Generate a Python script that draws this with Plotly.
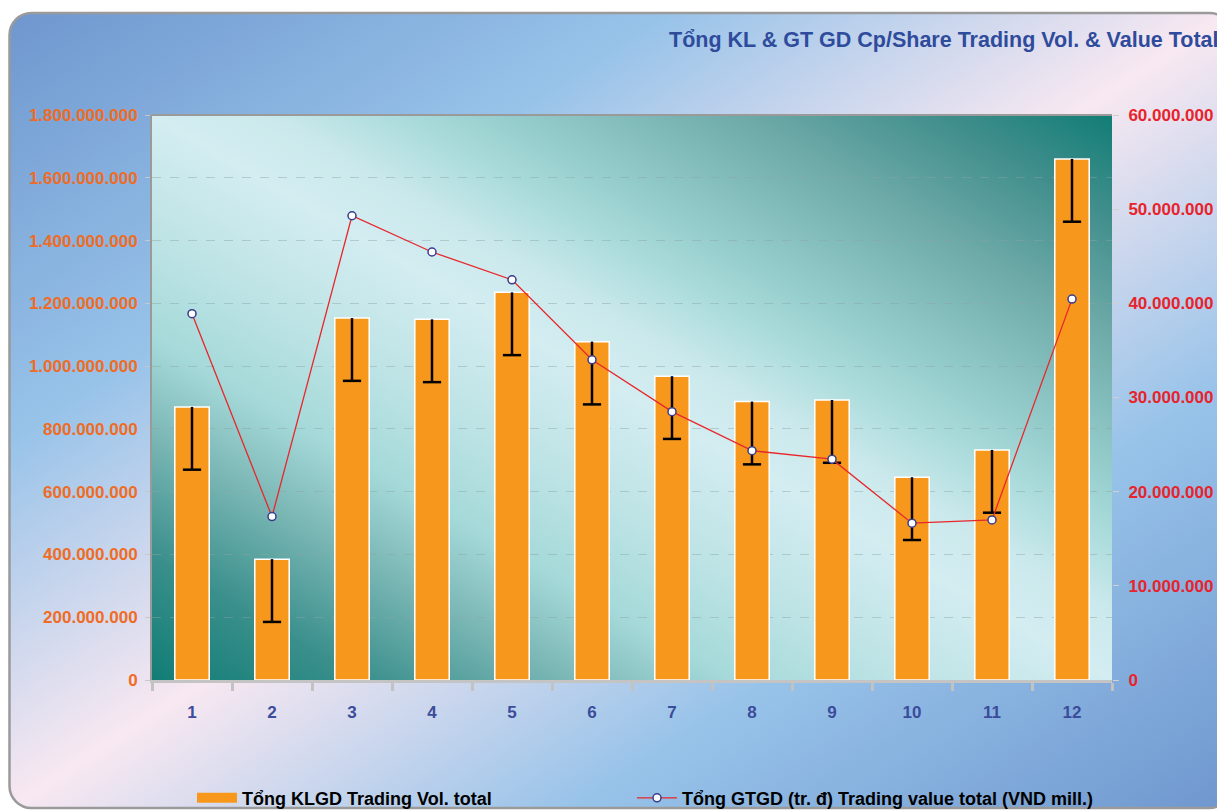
import base64
import numpy as np
import plotly.graph_objects as go

# ---------------- data ----------------
months = ["1", "2", "3", "4", "5", "6", "7", "8", "9", "10", "11", "12"]
trading_vol = [870e6, 385e6, 1153e6, 1149e6, 1235e6, 1078e6, 968e6, 887e6, 892e6, 646e6, 733e6, 1660e6]
vol_err_minus = [200e6] * 12
trading_value = [38.9e6, 17.35e6, 49.3e6, 45.45e6, 42.5e6, 34.0e6, 28.5e6, 24.35e6, 23.45e6, 16.65e6, 17.0e6, 40.45e6]

title_text = "Tổng KL & GT GD Cp/Share Trading Vol. & Value Total"
vol_name = "Tổng KLGD Trading Vol. total"
value_name = "Tổng GTGD (tr. đ) Trading value total (VND mill.)"

# ---------------- geometry (page has an 8px body margin) ----------------
W, H = 1217, 802
ML, MR, MT, MB = 144, 113, 107, 130
PW, PH = W - ML - MR, H - MT - MB


def svg_uri(svg):
    return "data:image/svg+xml;base64," + base64.b64encode(svg.encode("utf-8")).decode("ascii")


page_svg = f"""<svg xmlns='http://www.w3.org/2000/svg' width='{W}' height='{H}' viewBox='0 0 {W} {H}' preserveAspectRatio='none'>
<defs><linearGradient id='g' x1='0' y1='0' x2='1' y2='1'>
<stop offset='0' stop-color='#6f97cf'/>
<stop offset='0.27' stop-color='#98c3e9'/>
<stop offset='0.5' stop-color='#f8e8f1'/>
<stop offset='0.73' stop-color='#98c3e9'/>
<stop offset='1' stop-color='#6f97cf'/>
</linearGradient></defs>
<rect x='1.5' y='5' width='1222' height='795' rx='22' ry='22' fill='url(#g)' stroke='#9a9a9a' stroke-width='2.5'/>
</svg>"""

plot_svg = f"""<svg xmlns='http://www.w3.org/2000/svg' width='{PW}' height='{PH}' viewBox='0 0 {PW} {PH}' preserveAspectRatio='none'>
<defs><linearGradient id='p' x1='0' y1='1' x2='1' y2='0'>
<stop offset='0' stop-color='#117d75'/>
<stop offset='0.11' stop-color='#3a8f8c'/>
<stop offset='0.22' stop-color='#7cb8b6'/>
<stop offset='0.30' stop-color='#a5d9d9'/>
<stop offset='0.40' stop-color='#bfe4e6'/>
<stop offset='0.50' stop-color='#d3edf1'/>
<stop offset='0.56' stop-color='#cbe9ec'/>
<stop offset='0.62' stop-color='#aedddd'/>
<stop offset='0.67' stop-color='#9ad1d0'/>
<stop offset='0.81' stop-color='#6ca9a7'/>
<stop offset='0.91' stop-color='#408e8c'/>
<stop offset='1' stop-color='#117d75'/>
</linearGradient></defs>
<rect x='0' y='0' width='{PW}' height='{PH}' fill='url(#p)'/>
</svg>"""

BAR_COLOR = "#f7981d"

fig = go.Figure()

fig.add_trace(go.Bar(
    x=months, y=trading_vol, name=vol_name, showlegend=False,
    marker=dict(color=BAR_COLOR, line=dict(color="white", width=1.5)),
    width=0.43, yaxis="y",
))

# legend swatch for the bars (wide rectangle, as in the reference)
fig.add_trace(go.Scatter(
    x=[None], y=[None], name=vol_name, mode="lines", yaxis="y",
    line=dict(color=BAR_COLOR, width=10), legend="legend", hoverinfo="skip",
))

err_base = (np.array(trading_vol) - np.array(vol_err_minus)).tolist()
fig.add_trace(go.Scatter(
    x=months, y=err_base, mode="markers", showlegend=False, hoverinfo="skip",
    marker=dict(symbol="line-ew", size=13, line=dict(color="black", width=2.5), color="black"),
    error_y=dict(type="data", array=vol_err_minus, arrayminus=[0] * 12, symmetric=False,
                 thickness=2.5, width=0, color="black"),
    yaxis="y",
))

fig.add_trace(go.Scatter(
    x=months, y=trading_value, name=value_name, mode="lines+markers", yaxis="y2",
    line=dict(color="#e8262b", width=1.3),
    marker=dict(size=8, color="white", line=dict(color="#383c8c", width=1.5)),
    legend="legend2",
))

font_family = "Liberation Sans, Arial, sans-serif"
legend_font = dict(size=18, color="black", family=font_family, weight="bold")

fig.update_layout(
    width=W, height=H,
    margin=dict(l=ML, r=MR, t=MT, b=MB, autoexpand=False),
    paper_bgcolor="white",
    plot_bgcolor="rgba(0,0,0,0)",
    separators=",.",
    font=dict(family=font_family),
    xaxis=dict(
        type="category", range=[-0.5, len(months) - 0.5], tickson="boundaries",
        ticks="outside", ticklen=8,
        tickwidth=3, tickcolor="#c2c2c2", showline=True, linecolor="#c4c4c4", linewidth=3,
        showgrid=False, zeroline=False, ticklabelstandoff=15,
        tickfont=dict(size=17, color="#3b4c9b", family=font_family, weight="bold"),
    ),
    yaxis=dict(
        range=[0, 1.8e9], dtick=2e8, tickformat=",.0f", ticks="outside", ticklen=5,
        tickcolor="#c8c8c8", showline=True, linecolor="#9a9a9a", linewidth=2,
        showgrid=True, gridcolor="rgba(140,165,165,0.45)", griddash="dash", gridwidth=1,
        zeroline=False, ticklabelstandoff=4,
        tickfont=dict(size=17, color="#ef6c25", family=font_family, weight="bold"),
    ),
    yaxis2=dict(
        range=[0, 6e7], dtick=1e7, tickformat=",.0f", overlaying="y", side="right",
        ticks="outside", ticklen=6, tickcolor="#d0d0d0", showline=False, showgrid=False,
        zeroline=False, ticklabelstandoff=6,
        tickfont=dict(size=17, color="#e8232b", family=font_family, weight="bold"),
    ),
    legend=dict(
        orientation="h", x=(184 - ML) / PW, y=-0.209, yanchor="middle", xanchor="left",
        bgcolor="rgba(0,0,0,0)", font=legend_font, itemwidth=40,
    ),
    legend2=dict(
        orientation="h", x=(624 - ML) / PW, y=-0.209, yanchor="middle", xanchor="left",
        bgcolor="rgba(0,0,0,0)", font=legend_font, itemwidth=40,
    ),
    images=[
        dict(source=svg_uri(page_svg), xref="paper", yref="paper",
             x=-ML / PW, y=1 + MT / PH, sizex=W / PW, sizey=H / PH,
             xanchor="left", yanchor="top", sizing="stretch", layer="below"),
        dict(source=svg_uri(plot_svg), xref="paper", yref="paper",
             x=0, y=1, sizex=1, sizey=1,
             xanchor="left", yanchor="top", sizing="stretch", layer="below"),
    ],
    shapes=[
        dict(type="line", xref="paper", yref="paper", x0=0, x1=1, y0=1, y1=1,
             line=dict(color="#9a9a9a", width=2)),
    ],
    annotations=[
        dict(text=title_text, xref="paper", yref="paper",
             x=(1213 - ML) / PW, y=(H - MB - 32) / PH, xanchor="right", yanchor="middle",
             showarrow=False,
             font=dict(size=21.5, color="#2f4b9c", family=font_family, weight="bold")),
    ],
)

fig.write_html("out.html")
